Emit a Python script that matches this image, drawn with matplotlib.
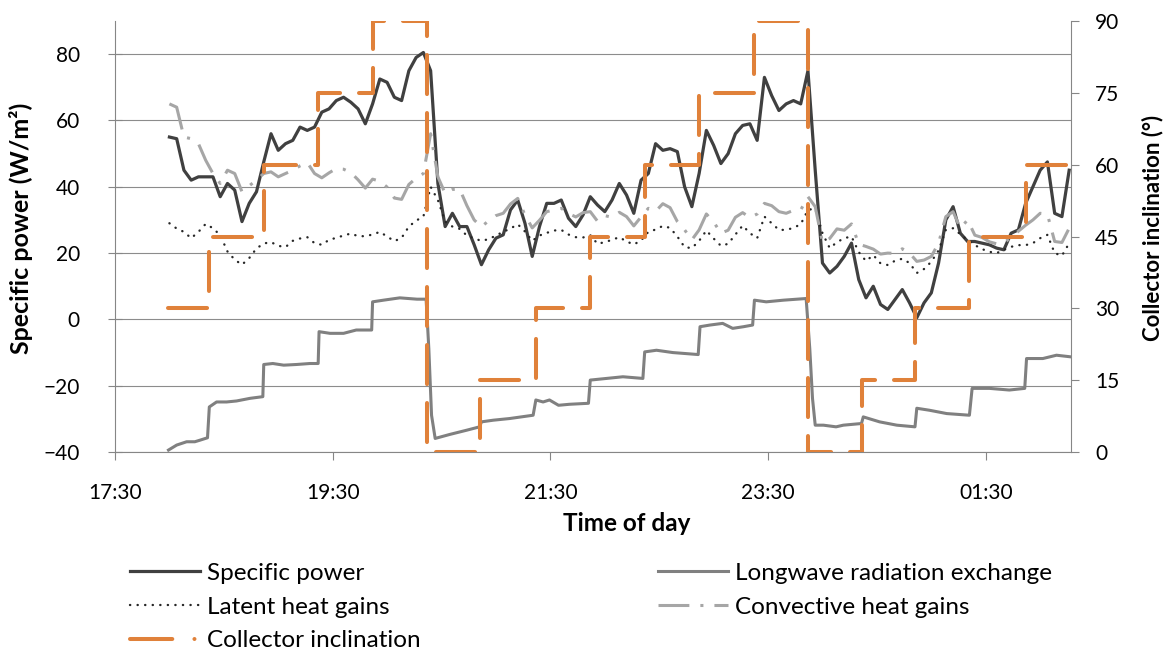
import numpy as np
import matplotlib
matplotlib.use('Agg')
import matplotlib.pyplot as plt
from matplotlib.lines import Line2D

plt.rcParams['font.family'] = ['Lato', 'DejaVu Sans']

# time axis: minutes after 17:30, one reading every 4 minutes from 18:00
t_grid = np.arange(30, 527, 4)

specific_power = [
    55, 54.5, 45, 42, 43, 43, 43, 37, 41, 39,
    29.5, 35, 38.5, 47.5, 56, 51, 53, 54, 58, 57,
    58, 62.5, 63.5, 66, 67, 65.5, 63.5, 59, 65, 72.5,
    71.5, 67, 66, 75, 79, 80.5, 75, 41, 28, 32,
    28, 28, 22.5, 16.5, 21, 24.5, 25.5, 33, 36, 29,
    19, 28, 35, 35, 36, 30.5, 28, 31.5, 37, 34.5,
    32.5, 36, 41, 37.5, 32, 42, 44, 53, 51, 51.5,
    50.6, 40, 34, 44, 57, 52.5, 47, 50, 56, 58.5,
    59, 54, 73, 67.5, 63, 65, 66, 65, 75, 45,
    17, 14, 16, 19, 23, 12, 6.5, 10, 4.5, 3,
    6, 9, 5, 0.5, 5, 8, 17, 30, 34, 26,
    23.5, 23.5, 23, 22.5, 21.5, 21, 26, 27, 35, 40,
    45, 47.5, 32, 31, 45]

latent_heat = [
    29, 27.4, 26.4, 24.5, 26.4, 28.8, 27.5, 25.4, 20.5, 18,
    16.5, 18.5, 21.4, 22.9, 23.3, 22.2, 21.8, 23.7, 24.4, 24.8,
    23, 22.5, 24, 24.6, 25.3, 25.9, 25.1, 25.1, 25.6, 26.4,
    25, 23.6, 24.6, 28, 29.8, 31, 40, 36, 29.5, 28,
    27.3, 25.3, 24.4, 23.7, 24.2, 25.3, 26.4, 27.4, 28.7, 26.5,
    23.7, 25.3, 26.1, 26.8, 27, 25.6, 24.8, 24.7, 25.4, 22.8,
    23.3, 24, 24.8, 23.5, 22.6, 23.8, 26.4, 27.1, 28.2, 27.6,
    25, 21.8, 21.5, 23.7, 26.8, 24.4, 22.2, 22.8, 25.6, 28.3,
    26, 24.5, 31, 29, 27, 27, 27.6, 28.7, 33, 33.5,
    26, 21.5, 23.3, 24.5, 25, 20.3, 17.6, 19.4, 16.9, 16.4,
    17.7, 18.3, 17, 14, 15.2, 17.4, 20.8, 27, 27.5, 25.7,
    23.9, 22.4, 21.2, 20.4, 20, 21, 21.9, 22.4, 22.4, 23,
    24.5, 25.5, 20, 19.2, 23]

convective_heat = [
    65, 64, 55, 54.5, 53, 48, 44, 41, 45, 44,
    38.5, 40.3, 42, 44, 44.5, 43, 44, 45, 46.3, 47.3,
    44, 42.7, 44.2, 45.5, 45.3, 44.3, 42.1, 39.6, 42.3, 41.7,
    39.9, 36.6, 36.2, 40.7, 42.6, 44, 56, 43, 38, 39.2,
    39.3, 34.3, 30, 27.9, 29.8, 31.3, 32, 34.8, 36.5, 31.5,
    27.6, 29.9, 32.5, 33, 33.5, 32, 30.9, 32.2, 32.5, 29.6,
    31.3, 30.8, 32.3, 31, 28.2, 30.9, 33.5, 32.6, 34.9, 33.7,
    29.5, 27, 24, 27, 31.8, 29.4, 26, 26.9, 30.8, 32.2,
    30.7, 31.8, 35, 34.3, 32.5, 32, 32.9, 33, 37, 34,
    23.2, 24.4, 27.3, 26.9, 28.8, 22.7, 22, 21.2, 19.7, 20,
    19.9, 21.3, 20, 17.5, 17.9, 19, 23, 31, 32.5, 27.5,
    30, 25.4, 24.7, 23.4, 22.8, 23, 24.8, 26.6, 28.4, 30,
    32, 31.7, 23.5, 23.2, 27.5]

# longwave radiation exchange, read at its own (step) times
t_longwave = [
    29.5, 34, 39.5, 44, 47, 51, 52, 56, 61.5, 67, 74.5, 81.5, 82, 87, 93,
    100, 107.5, 112, 112.5, 118.5, 126, 133, 141.5, 142, 148, 157, 166.5,
    171.5, 173, 174.5, 176.5, 184.5, 194, 201, 202, 208.5, 217.5, 230.5,
    232, 236, 239.5, 244.5, 250.5, 261, 262, 271, 280, 291, 292, 298.5,
    307.5, 321.5, 322.5, 328, 335, 340.5, 346.5, 351.5, 352.5, 359, 368.5,
    381, 383, 384.5, 386, 390.5, 397.5, 401.5, 411.5, 412.5, 421.5, 431,
    441, 442, 449, 458.5, 471, 472.5, 482, 493, 501.5, 502.5, 511.5, 519, 527]
longwave = [
    -39.4, -37.9, -36.9, -36.9, -36.4, -35.7, -26.4, -24.9, -24.9, -24.6,
    -23.8, -23.3, -13.6, -13.3, -13.8, -13.6, -13.3, -13.3, -3.7, -4.2,
    -4.2, -3.2, -3.2, 5.3, 5.8, 6.5, 6.1, 6.1, -8.8, -28.9,
    -35.9, -34.7, -33.4, -32.4, -30.9, -30.4, -29.9, -28.9, -24.3, -24.9,
    -24.3, -25.9, -25.6, -25.3, -18.3, -17.8, -17.3, -17.8, -9.8, -9.3,
    -10, -10.6, -2.2, -1.7, -1.2, -2.7, -2.2, -1.7, 5.8, 5.3,
    5.8, 6.3, -8.8, -23.8, -31.9, -31.9, -32.4, -31.9, -31.4, -29.4,
    -30.9, -31.9, -32.4, -26.8, -27.4, -28.4, -28.9, -20.8, -20.8, -21.3,
    -20.8, -11.8, -11.8, -10.8, -11.3]

# collector inclination (deg), changed every half hour
t_incl = [29, 52, 82, 112, 142, 172, 201, 232, 262, 292, 322, 352, 382, 412,
          441, 471, 502, 527]
inclination = [30, 45, 60, 75, 90, 0, 15, 30, 45, 60, 75, 90, 0, 15, 30, 45,
               60, 60]

tick_times = [0, 120, 240, 360, 480]
tick_labels = ['17:30', '19:30', '21:30', '23:30', '01:30']

FS_TICK = 15
FS_LEG = 17.5
axis_col = '#868686'
orange = '#e0813a'

fig = plt.figure(figsize=(11.71, 6.52), dpi=100)
ax = fig.add_axes([0.0982, 0.3067, 0.8164, 0.6611])
ax2 = ax.twinx()

h_sp, = ax.plot(t_grid, specific_power, color='#404040', lw=2.3,
                solid_joinstyle='round', label='Specific power')
h_lw, = ax.plot(t_longwave, longwave, color='#808080', lw=2.2,
                solid_joinstyle='round', label='Longwave radiation exchange')
h_lat, = ax.plot(t_grid, latent_heat, color='#262626', lw=1.7,
                 dashes=(0.1, 3.1), dash_capstyle='round',
                 label='Latent heat gains')
h_cv, = ax.plot(t_grid, convective_heat, color='#a6a6a6', lw=2.2,
                dashes=(10.1, 3.6, 1.0, 3.6), label='Convective heat gains')
ax2.plot(t_incl, inclination, color=orange, lw=2.9, drawstyle='steps-post',
         dashes=(9.7, 4.7), dash_capstyle='round')
h_ci = Line2D([], [], color=orange, lw=2.9, dashes=(10.5, 5.5, 0.01, 5),
              dash_capstyle='round')

ax.set_xlim(0, 527)
ax.set_ylim(-40, 90)
ax.set_yticks(np.arange(-40, 81, 20))
ax.set_xticks(tick_times)
ax.set_xticklabels(tick_labels)
ax2.set_ylim(0, 90)
ax2.set_yticks(np.arange(0, 91, 15))

ax.yaxis.grid(True, color='#8c8c8c', lw=0.8)
ax.set_axisbelow(True)

for s in ['top', 'right']:
    ax.spines[s].set_visible(False)
for s in ['top', 'left', 'bottom']:
    ax2.spines[s].set_visible(False)
for s in ['left', 'bottom']:
    ax.spines[s].set_color(axis_col)
    ax.spines[s].set_linewidth(0.8)
ax2.spines['right'].set_color(axis_col)
ax2.spines['right'].set_linewidth(0.8)

ax.tick_params(axis='y', direction='inout', length=9.4, width=0.8,
               color=axis_col, pad=20.5, labelsize=FS_TICK)
ax.tick_params(axis='x', direction='out', length=6, width=0.8,
               color=axis_col, pad=16, labelsize=FS_TICK)
ax2.tick_params(axis='y', direction='out', length=5.8, width=0.8,
                color=axis_col, pad=11.5, labelsize=FS_TICK)

ax.set_ylabel('Specific power (W/m²)', fontsize=18, fontweight='bold')
ax.yaxis.set_label_coords(-0.0858, 0.52)
ax2.set_ylabel('Collector inclination (°)', fontsize=16, fontweight='bold')
ax2.yaxis.set_label_coords(1.0743, 0.52)
ax.set_xlabel('Time of day', fontsize=17.5, fontweight='bold')
ax.xaxis.set_label_coords(0.535, -0.14)

leg_kw = dict(loc='upper left', frameon=False, fontsize=FS_LEG,
              handlelength=2.88, handletextpad=0.29,
              labelspacing=0.53, borderpad=0, borderaxespad=0)
fig.legend([h_sp, h_lat, h_ci],
           ['Specific power', 'Latent heat gains', 'Collector inclination'],
           bbox_to_anchor=(0.111, 0.137), **leg_kw)
fig.legend([h_lw, h_cv],
           ['Longwave radiation exchange', 'Convective heat gains'],
           bbox_to_anchor=(0.562, 0.137), **leg_kw)

fig.savefig('out.png', dpi=100)
